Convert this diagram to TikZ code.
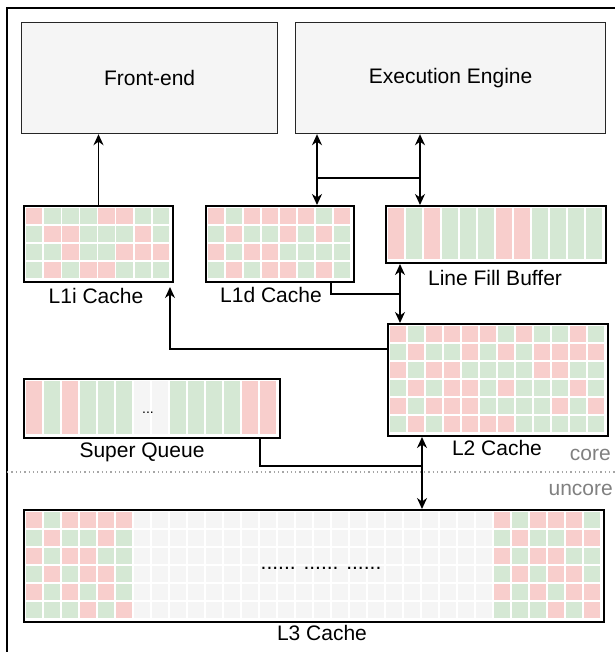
\documentclass[tikz,border=0pt]{standalone}
\usepackage{fontspec}
\setmainfont{Liberation Sans}
\usetikzlibrary{arrows.meta,calc}
\definecolor{cR}{HTML}{F8CECC}
\definecolor{cG}{HTML}{D5E8D4}
\definecolor{cW}{HTML}{F5F5F5}
\definecolor{boxfill}{HTML}{F5F5F5}
\newcommand\mygrid[7]{%
  \pgfmathsetmacro\mycw{(#3-4)/#5}%
  \pgfmathsetmacro\mych{(#4-4)/#6}%
  \foreach \rw [count=\j from 0] in {#7} {%
    \foreach \cc [count=\i from 0] in \rw {%
      \fill[fill=\cc] ({#1+2.75+\i*\mycw},{#2+2.75+\j*\mych}) rectangle ++({\mycw-1.5},{\mych-1.5});
    }%
  }%
}
\tikzset{
  bigbox/.style={draw=black!85, fill=boxfill, line width=1.2pt, inner sep=0pt, anchor=north west, font=\fontsize{21}{25}\selectfont},
  cachebox/.style={draw=black, line width=2pt, inner sep=0pt, anchor=north west},
  lbl/.style={font=\fontsize{21}{25}\selectfont, inner sep=0pt},
  conn/.style={line width=1.6pt, draw=black},
  >={Stealth[length=11pt,width=10pt,inset=3.5pt]}
}
\begin{document}
\begin{tikzpicture}[x=1pt,y=-1pt]
\useasboundingbox (0,0) rectangle (615,652);
% outer frame
\draw[line width=1.5pt] (7,652) -- (7,8) -- (615,8);
% core / uncore separator
\draw[gray!70, line width=1.3pt, dash pattern=on 1.3pt off 3pt] (7,472) -- (615,472);
\node[lbl, text=black!50, anchor=east] (core) at (611,455) {core};
\node[lbl, text=black!50, anchor=east] (uncore) at (613,490) {uncore};

% big boxes
\node[bigbox, minimum width=256pt, minimum height=111pt] (fe) at (21,22) {Front-end};
\node[bigbox, minimum width=310pt, minimum height=111pt] (ee) at (295,22) {Execution Engine};

% cache boxes
\node[cachebox, minimum width=149pt, minimum height=76pt] (l1i) at (23,205) {};
\node[cachebox, minimum width=148pt, minimum height=76pt] (l1d) at (205,205) {};
\node[cachebox, minimum width=220pt, minimum height=57pt] (lfb) at (385,205) {};
\node[cachebox, minimum width=220pt, minimum height=112pt] (l2) at (387,323) {};
\node[cachebox, minimum width=256pt, minimum height=59pt] (sq) at (23,378) {};
\node[cachebox, minimum width=580pt, minimum height=112pt] (l3) at (23,509) {};

% labels
\node[lbl] (l1ilbl) at (96,296) {L1i Cache};
\node[lbl] (l1dlbl) at (271,295) {L1d Cache};
\node[lbl] (lfblbl) at (495,278) {Line Fill Buffer};
\node[lbl] (l2lbl) at (497,448) {L2 Cache};
\node[lbl] (sqlbl) at (142,452) {Super Queue};
\node[lbl] (l3lbl) at (322,633) {L3 Cache};

% grids
\mygrid{23}{205}{149}{76}{8}{4}{%
 {cR,cG,cG,cG,cR,cR,cG,cG},
 {cG,cR,cR,cG,cG,cG,cR,cG},
 {cG,cG,cR,cG,cG,cR,cR,cR},
 {cG,cR,cG,cR,cR,cG,cG,cG}}
\mygrid{205}{205}{148}{76}{8}{4}{%
 {cR,cG,cR,cR,cR,cR,cG,cR},
 {cG,cR,cG,cG,cR,cG,cR,cG},
 {cR,cG,cR,cR,cG,cG,cG,cG},
 {cG,cR,cG,cR,cR,cG,cR,cG}}
\mygrid{385}{205}{220}{57}{12}{1}{%
 {cR,cG,cR,cG,cG,cG,cR,cR,cG,cG,cG,cG}}
\mygrid{387}{323}{220}{112}{12}{6}{%
 {cR,cG,cR,cR,cR,cR,cG,cR,cG,cG,cR,cG},
 {cG,cR,cG,cG,cR,cG,cR,cG,cR,cR,cR,cR},
 {cR,cG,cR,cR,cG,cG,cG,cG,cR,cR,cG,cG},
 {cG,cR,cG,cR,cR,cG,cR,cG,cG,cG,cR,cG},
 {cR,cG,cR,cR,cR,cG,cG,cG,cG,cR,cG,cR},
 {cG,cR,cG,cR,cR,cR,cR,cG,cG,cG,cG,cG}}
\mygrid{23}{378}{256}{59}{14}{1}{%
 {cR,cG,cR,cG,cG,cG,cW,cW,cG,cG,cG,cG,cR,cR}}
\node[font=\fontsize{14}{16}\selectfont, inner sep=0pt] (sqdots) at (148,413) {...};
% L3 grid
\foreach \i in {6,...,25} \foreach \j in {0,...,5}
  \fill[cW] ({23+2.75+\i*18},{509+2.75+\j*18}) rectangle ++(16.5,16.5);
\mygrid{23}{509}{112}{112}{6}{6}{%
 {cR,cG,cR,cR,cR,cR},
 {cG,cR,cG,cG,cR,cG},
 {cR,cG,cR,cR,cG,cG},
 {cG,cR,cG,cR,cR,cG},
 {cR,cG,cR,cG,cR,cG},
 {cG,cG,cG,cR,cG,cR}}
\mygrid{491}{509}{112}{112}{6}{6}{%
 {cR,cG,cR,cR,cR,cG},
 {cG,cR,cG,cG,cR,cR},
 {cR,cG,cR,cR,cG,cG},
 {cG,cR,cG,cR,cR,cG},
 {cR,cG,cR,cG,cR,cR},
 {cG,cG,cG,cR,cG,cR}}
\node[lbl, inner sep=0pt] (l3dots) at (321,568) {...... ...... ......};

% connectors
\draw[conn,->] (l1i.north) -- (l1i.north |- fe.south);
\coordinate (ja) at (317,178);
\coordinate (jb) at (420,178);
\draw[conn,<->] (ja |- ee.south) -- (ja |- l1d.north);
\draw[conn,<->] (jb |- ee.south) -- (jb |- lfb.north);
\draw[conn] (ja) -- (jb);
\coordinate (jc) at (400,294);
\draw[conn,<->] (jc |- lfb.south) -- (jc |- l2.north);
\coordinate (jd) at (331,294);
\draw[conn] (jd |- l1d.south) -- (jd) -- (jc);
\coordinate (je) at (170,349);
\draw[conn,->] (l2.west |- je) -- (je) -- ($(je |- l1i.south)+(0,4)$);
\coordinate (jf) at (422,466);
\draw[conn,<->] (jf |- l2.south) -- (jf |- l3.north);
\coordinate (jg) at (260,466);
\draw[conn] (jg |- sq.south) -- (jg) -- (jf);
\end{tikzpicture}
\end{document}
